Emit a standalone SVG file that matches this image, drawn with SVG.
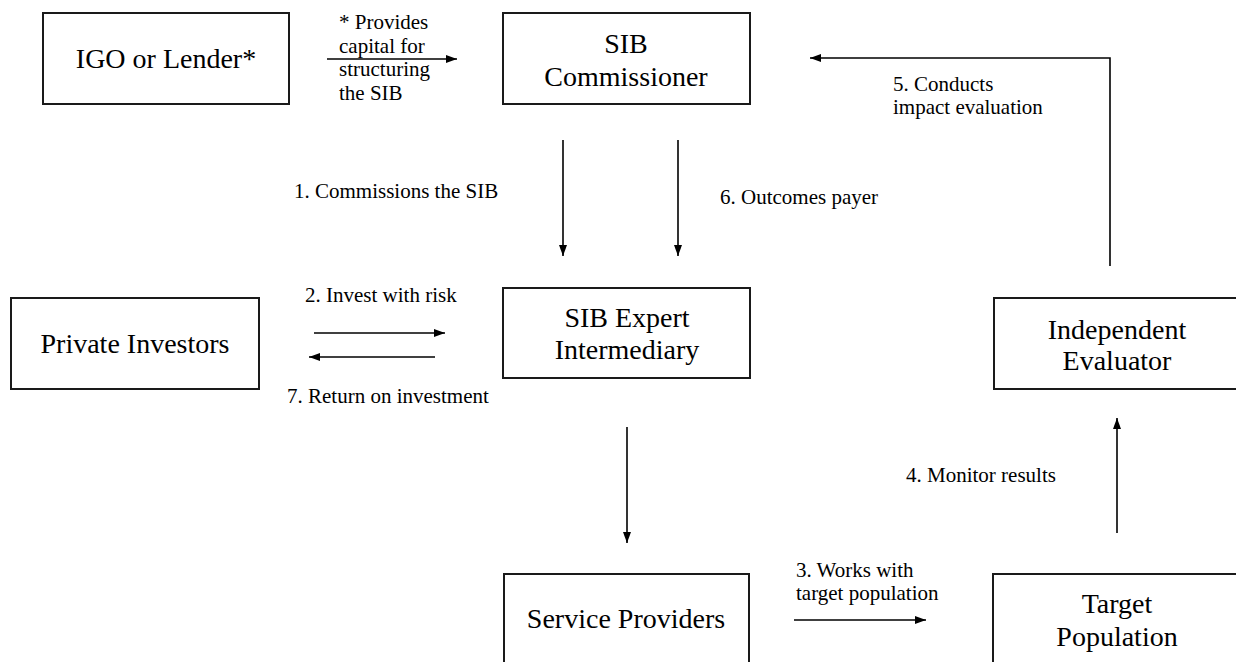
<svg xmlns="http://www.w3.org/2000/svg" width="1236" height="662" viewBox="0 0 1236 662">
  <style>
    .box { fill: #ffffff; stroke: #1a1a1a; stroke-width: 2; }
    .nt { font-family: 'Liberation Serif', Tinos, 'Times New Roman', Times, 'DejaVu Serif', serif; font-size: 28px; fill: #000; text-anchor: middle; }
    .lb { font-family: 'Liberation Serif', Tinos, 'Times New Roman', Times, 'DejaVu Serif', serif; font-size: 21px; fill: #000; }
    .ar { fill: none; stroke: #000; stroke-width: 1.6; marker-end: url(#ah); }
  </style>
  <defs>
    <marker id="ah" markerUnits="userSpaceOnUse" markerWidth="12" markerHeight="10" refX="11" refY="5" orient="auto">
      <path d="M0,1 L11,5 L0,9 Z" fill="#000"/>
    </marker>
  </defs>
  <rect width="1236" height="662" fill="#ffffff"/>

  <g id="igo">
    <rect class="box" x="43" y="13" width="246" height="91"/>
    <text class="nt" x="166" y="68">IGO or Lender*</text>
  </g>
  <g id="commissioner">
    <rect class="box" x="503" y="13" width="247" height="91"/>
    <text class="nt" x="626" y="53">SIB</text>
    <text class="nt" x="626" y="86">Commissioner</text>
  </g>
  <g id="investors">
    <rect class="box" x="11" y="298" width="248" height="91"/>
    <text class="nt" x="135" y="353">Private Investors</text>
  </g>
  <g id="intermediary">
    <rect class="box" x="503" y="288" width="247" height="90"/>
    <text class="nt" x="627" y="327">SIB Expert</text>
    <text class="nt" x="627" y="359">Intermediary</text>
  </g>
  <g id="evaluator">
    <rect class="box" x="994" y="298" width="250" height="91"/>
    <text class="nt" x="1117" y="339">Independent</text>
    <text class="nt" x="1117" y="370">Evaluator</text>
  </g>
  <g id="providers">
    <rect class="box" x="504" y="574" width="245" height="95"/>
    <text class="nt" x="626" y="628">Service Providers</text>
  </g>
  <g id="target">
    <rect class="box" x="993" y="574" width="250" height="95"/>
    <text class="nt" x="1117" y="613">Target</text>
    <text class="nt" x="1117" y="646">Population</text>
  </g>

  <g id="connectors">
    <line class="ar" x1="327" y1="59" x2="457" y2="59"/>
    <line class="ar" x1="563" y1="140" x2="563" y2="256"/>
    <line class="ar" x1="678" y1="140" x2="678" y2="256"/>
    <line class="ar" x1="314" y1="333" x2="445" y2="333"/>
    <line class="ar" x1="435" y1="357" x2="309" y2="357"/>
    <line class="ar" x1="627" y1="427" x2="627" y2="543"/>
    <line class="ar" x1="794" y1="620" x2="926" y2="620"/>
    <line class="ar" x1="1117" y1="533" x2="1117" y2="418"/>
    <polyline class="ar" points="1110,266 1110,58 810,58"/>
  </g>

  <g id="labels">
    <text class="lb" x="339" y="29">* Provides</text>
    <text class="lb" x="339" y="53">capital for</text>
    <text class="lb" x="339" y="76">structuring</text>
    <text class="lb" x="339" y="100">the SIB</text>
    <text class="lb" x="294" y="198">1. Commissions the SIB</text>
    <text class="lb" x="720" y="204">6. Outcomes payer</text>
    <text class="lb" x="893" y="91">5. Conducts</text>
    <text class="lb" x="893" y="114">impact evaluation</text>
    <text class="lb" x="305" y="302">2. Invest with risk</text>
    <text class="lb" x="287" y="403">7. Return on investment</text>
    <text class="lb" x="906" y="482">4. Monitor results</text>
    <text class="lb" x="796" y="577">3. Works with</text>
    <text class="lb" x="796" y="600">target population</text>
  </g>
</svg>
